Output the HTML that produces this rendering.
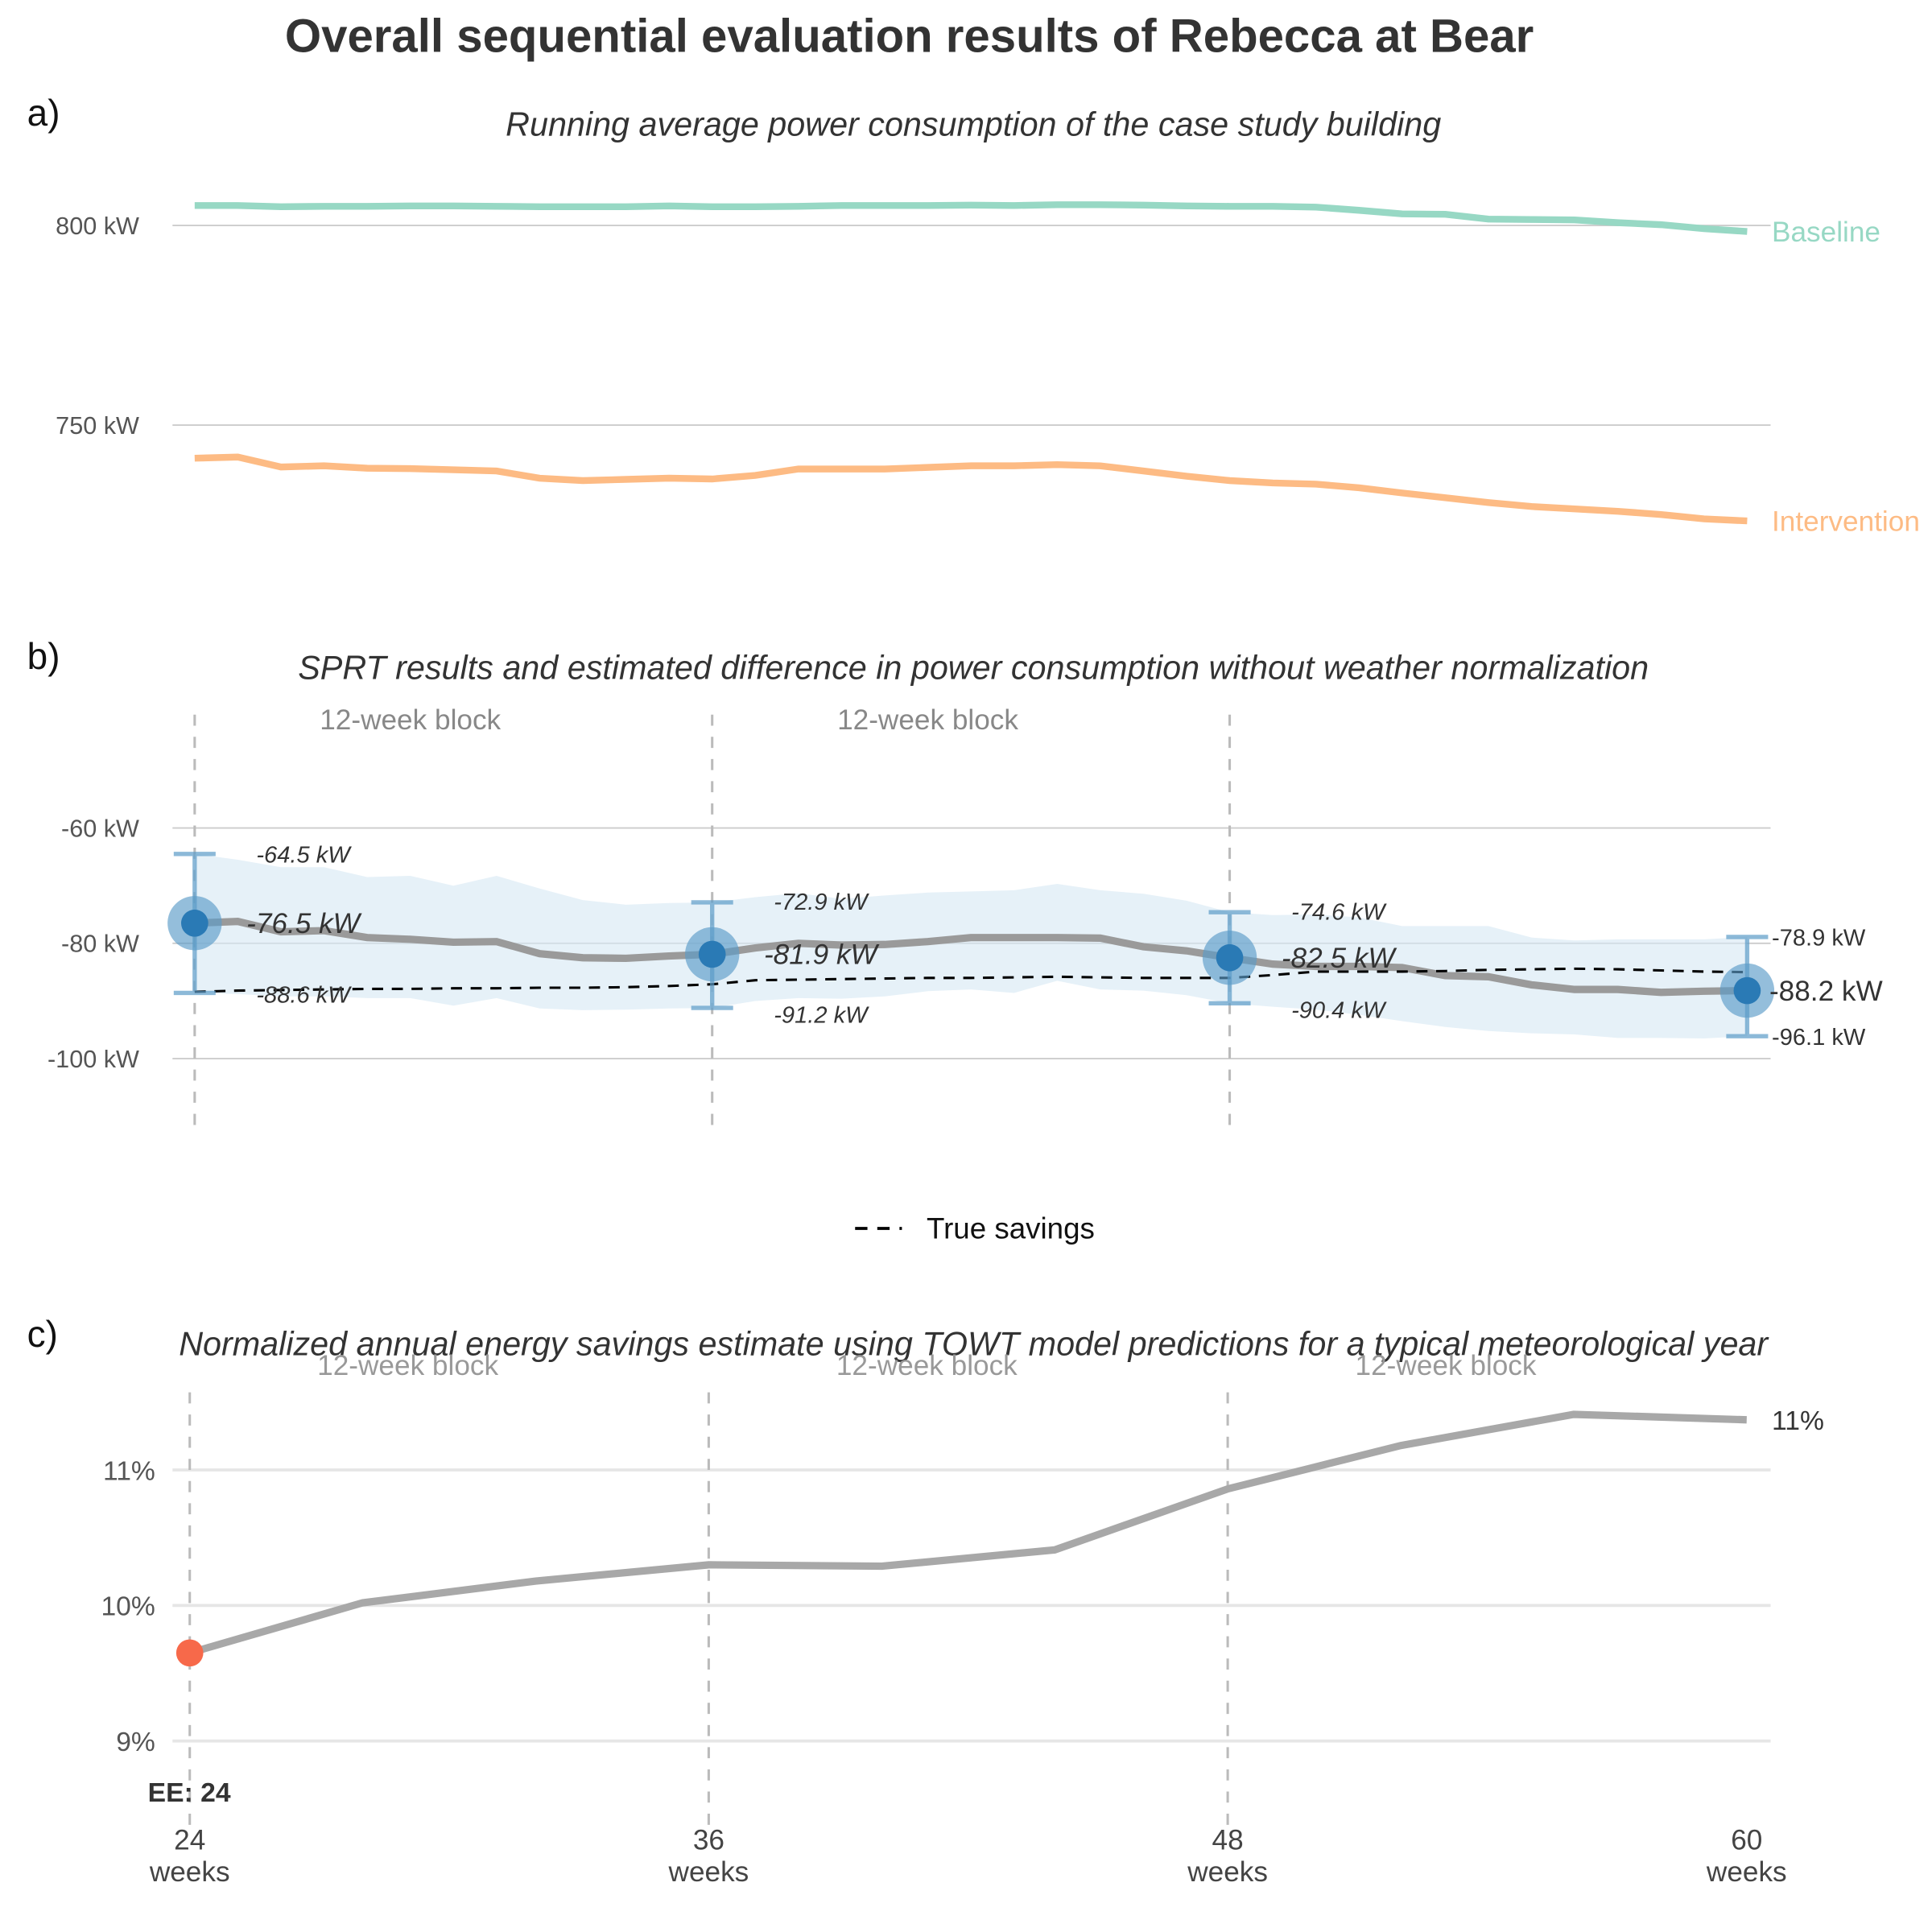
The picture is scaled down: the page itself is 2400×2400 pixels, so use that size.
<!DOCTYPE html>
<html><head><meta charset="utf-8"><style>html,body{margin:0;padding:0;background:#fff}svg{display:block}text{font-family:"Liberation Sans",Arial,sans-serif}</style></head>
<body>
<svg id="chart" width="2400" height="2400" viewBox="0 0 1568 1568" xmlns="http://www.w3.org/2000/svg">
<text x="738" y="42" text-anchor="middle" font-size="38" font-weight="bold" fill="#333">Overall sequential evaluation results of Rebecca at Bear</text>
<text x="22" y="102" font-size="30" fill="#111">a)</text>
<text x="22" y="543" font-size="30" fill="#111">b)</text>
<text x="22" y="1093" font-size="30" fill="#111">c)</text>
<text x="790" y="110" text-anchor="middle" font-size="27" font-style="italic" fill="#333">Running average power consumption of the case study building</text>
<text x="790" y="551" text-anchor="middle" font-size="27" font-style="italic" fill="#333">SPRT results and estimated difference in power consumption without weather normalization</text>
<text x="790" y="1100" text-anchor="middle" font-size="27" font-style="italic" fill="#333">Normalized annual energy savings estimate using TOWT model predictions for a typical meteorological year</text>
<g id="pa"></g>
<g id="pb"></g>
<g id="pc"></g>
<g>
<line x1="694" y1="997" x2="732" y2="997" stroke="#000" stroke-width="2.5" stroke-dasharray="10,8"/>
<text x="752" y="1005" font-size="24" fill="#111">True savings</text>
</g>
</svg>
<script>
const weeks=[24,25,26,27,28,29,30,31,32,33,34,35,36,37,38,39,40,41,42,43,44,45,46,47,48,49,50,51,52,53,54,55,56,57,58,59,60];
const baseline=[805.0,805.0,804.7,804.8,804.8,804.9,804.9,804.8,804.7,804.7,804.7,804.9,804.7,804.7,804.8,805.0,805.0,805.0,805.1,805.0,805.2,805.2,805.1,804.9,804.8,804.8,804.6,803.8,802.9,802.8,801.6,801.5,801.4,800.7,800.2,799.2,798.5];
const intervention=[741.7,742.0,739.5,739.8,739.2,739.1,738.8,738.5,736.7,736.1,736.4,736.7,736.5,737.4,739.0,739.0,739.0,739.4,739.8,739.8,740.1,739.8,738.5,737.2,736.1,735.5,735.2,734.3,733.0,731.8,730.6,729.6,729.0,728.4,727.6,726.5,726.0];
const meanDiff=[-76.5,-76.2,-78,-77.8,-79,-79.3,-79.8,-79.7,-81.8,-82.5,-82.6,-82.2,-81.9,-80.8,-80,-80.3,-80.2,-79.7,-79,-79,-79,-79.1,-80.6,-81.3,-82.5,-83.6,-84,-84,-84.2,-85.6,-85.8,-87.2,-88,-88,-88.5,-88.3,-88.2];
const upperBand=[-64.5,-65.5,-66.8,-66.8,-68.5,-68.3,-70,-68.3,-70.5,-72.5,-73.3,-73,-72.9,-72,-71.3,-72.3,-71.7,-71.2,-71,-70.8,-69.7,-70.8,-71.4,-72.6,-74.6,-75.1,-75,-75.5,-77,-77,-77,-79,-79.5,-79.3,-79.3,-79.3,-78.9];
const lowerBand=[-88.6,-88.8,-89.2,-89.2,-89.5,-89.5,-90.8,-89.5,-91.3,-91.6,-91.5,-91.3,-91.2,-90,-89.5,-89.6,-89.2,-88.3,-88,-88.6,-86.5,-88,-88.2,-89,-90.4,-91,-91.5,-92.4,-93.5,-94.5,-95.2,-95.6,-95.8,-96.4,-96.4,-96.5,-96.1];
const trueSavings=[-88.4,-88.2,-88.1,-88,-87.9,-87.9,-87.8,-87.8,-87.7,-87.7,-87.6,-87.4,-87.1,-86.4,-86.3,-86.2,-86.1,-86,-86,-85.9,-85.8,-85.9,-86,-86,-86,-85.5,-84.9,-84.9,-84.9,-84.8,-84.6,-84.5,-84.4,-84.5,-84.7,-84.9,-85];
const checkWeeks=[24,36,48,60];
const checkMean=[-76.5,-81.9,-82.5,-88.2];
const checkUpper=[-64.5,-72.9,-74.6,-78.9];
const checkLower=[-88.6,-91.2,-90.4,-96.1];
const savingsWeeks=[24,28,32,36,40,44,48,50,52,56,60];
const savingsPct=[9.65,10.02,10.18,10.3,10.29,10.41,10.86,11.02,11.18,11.41,11.37];
const aTicks=[750,800];const bTicks=[-60,-80,-100];const cTicks=[9,10,11];const xTicks=[24,36,48,60];

const NS='http://www.w3.org/2000/svg';
function mk(p,t,a){const e=document.createElementNS(NS,t);for(const k in a)e.setAttribute(k,a[k]);p.appendChild(e);return e;}
function txt(p,x,y,s,a){const e=mk(p,'text',Object.assign({x:x,y:y},a));e.textContent=s;return e;}
const pa=document.getElementById('pa'),pb=document.getElementById('pb'),pc=document.getElementById('pc');
// panel a
const xa=w=>158+(w-24)*35, ya=v=>183-(v-800)*3.24;
aTicks.forEach(t=>{const l=mk(pa,'line',{x1:140,x2:1437,y1:ya(t),y2:ya(t),stroke:'#ccc','stroke-width':1.2});


const e=txt(pa,113,ya(t)+7,t+' kW',{'text-anchor':'end','font-size':20,fill:'#555'});

});
[[baseline,'#97d8c4','Baseline','baseline-line'],[intervention,'#fdbb84','Intervention','intervention-line']].forEach(([arr,c,lab,nm])=>{
const p=mk(pa,'polyline',{points:arr.map((v,i)=>xa(weeks[i])+','+ya(v)).join(' '),fill:'none',stroke:c,'stroke-width':5.5});


const e=txt(pa,1438,ya(arr[arr.length-1])+8,lab,{'font-size':23,fill:c});

});
// panel b
const xb=w=>158+(w-24)*35, yb=v=>672-(v+60)*4.68;
bTicks.forEach(t=>{const l=mk(pb,'line',{x1:140,x2:1437,y1:yb(t),y2:yb(t),stroke:'#ccc','stroke-width':1.2});


const e=txt(pb,113,yb(t)+7,t+' kW',{'text-anchor':'end','font-size':20,fill:'#555'});

});
checkWeeks.slice(0,3).forEach((w,i)=>{const l=mk(pb,'line',{x1:xb(w),x2:xb(w),y1:580,y2:920,stroke:'#bbb','stroke-width':2,'stroke-dasharray':'9,9'});


if(i<2){const e=txt(pb,xb(w)+175,592,'12-week block',{'text-anchor':'middle','font-size':23,fill:'#888'});

}});
const band=mk(pb,'polygon',{points:weeks.map((w,i)=>xb(w)+','+yb(upperBand[i])).concat(weeks.map((w,i)=>xb(w)+','+yb(lowerBand[i])).reverse()).join(' '),fill:'#d6e8f4','fill-opacity':0.6});


const ml=mk(pb,'polyline',{points:weeks.map((w,i)=>xb(w)+','+yb(meanDiff[i])).join(' '),fill:'none',stroke:'#9a9a9a','stroke-width':6});


const ts=mk(pb,'polyline',{points:weeks.map((w,i)=>xb(w)+','+yb(trueSavings[i])).join(' '),fill:'none',stroke:'#000','stroke-width':2,'stroke-dasharray':'9,7'});


checkWeeks.forEach((w,i)=>{const x=xb(w),last=i===3;
const eb=mk(pb,'path',{d:`M${x},${yb(checkUpper[i])}V${yb(checkLower[i])}M${x-17},${yb(checkUpper[i])}H${x+17}M${x-17},${yb(checkLower[i])}H${x+17}`,stroke:'#5b9bc8','stroke-opacity':0.7,'stroke-width':3.5,fill:'none'});


const c1=mk(pb,'circle',{cx:x,cy:yb(checkMean[i]),r:22,fill:'#5b9bc8','fill-opacity':0.65});


const c2=mk(pb,'circle',{cx:x,cy:yb(checkMean[i]),r:11,fill:'#2a7ab5'});


const ox=last?20:50;
const t1=txt(pb,x+(last?18:42),yb(checkMean[i])+8,checkMean[i].toFixed(1)+' kW',{'font-size':23,fill:'#333','font-style':last?'normal':'italic'});


const t2=txt(pb,x+ox,yb(checkUpper[i])+(last?7:(i===0?7:6)),checkUpper[i].toFixed(1)+' kW',{'font-size':19,fill:'#333','font-style':last?'normal':'italic'});


const t3=txt(pb,x+ox,yb(checkLower[i])+(last?7:(i===0?8:12)),checkLower[i].toFixed(1)+' kW',{'font-size':19,fill:'#333','font-style':last?'normal':'italic'});

});
// panel c
const xc=w=>154+(w-24)*35.1, yc=v=>1303-(v-10)*110;
cTicks.forEach(t=>{const l=mk(pc,'line',{x1:140,x2:1437,y1:yc(t),y2:yc(t),stroke:'#e6e6e6','stroke-width':2.5});


const e=txt(pc,126,yc(t)+8,t+'%',{'text-anchor':'end','font-size':22,fill:'#555'});

});
xTicks.forEach((w,i)=>{if(i<3){const l=mk(pc,'line',{x1:xc(w),x2:xc(w),y1:1130,y2:1490,stroke:'#bbb','stroke-width':2,'stroke-dasharray':'9,9'});


const b=txt(pc,xc(w)+177,1116,'12-week block',{'text-anchor':'middle','font-size':23,fill:'#999'});

}
const a=txt(pc,xc(w),1501,String(w),{'text-anchor':'middle','font-size':23,fill:'#444'});


const b2=txt(pc,xc(w),1527,'weeks',{'text-anchor':'middle','font-size':23,fill:'#444'});

});
const sl=mk(pc,'polyline',{points:savingsWeeks.map((w,i)=>xc(w)+','+yc(savingsPct[i])).join(' '),fill:'none',stroke:'#a8a8a8','stroke-width':6});


const rd=mk(pc,'circle',{cx:xc(savingsWeeks[0]),cy:yc(savingsPct[0]),r:11,fill:'#f7694a'});


const el=txt(pc,1438,yc(savingsPct[savingsPct.length-1])+8,Math.round(savingsPct[savingsPct.length-1])+'%',{'font-size':22,fill:'#333'});


const ee=txt(pc,120,1462,'EE: 24',{'font-size':22,'font-weight':'bold',fill:'#333'});


</script>
</body></html>
